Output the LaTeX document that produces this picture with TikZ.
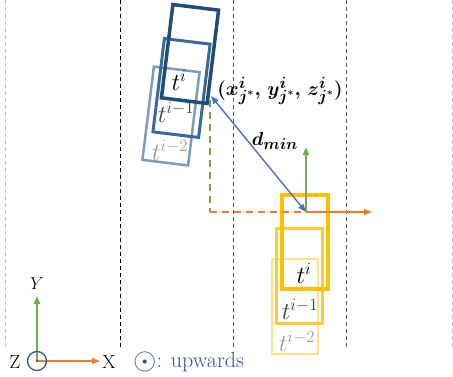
\documentclass[tikz,border=0pt]{standalone}
\usepackage{bm}
\usepackage{graphicx}
\usetikzlibrary{arrows.meta}
\definecolor{bA}{HTML}{1F4E79}
\definecolor{bB}{HTML}{3A6A98}
\definecolor{bC}{HTML}{7D9CBC}
\definecolor{yA}{HTML}{FFC000}
\definecolor{yB}{HTML}{FFCB2E}
\definecolor{yC}{HTML}{FFE18C}
\definecolor{arrB}{HTML}{4472C4}
\definecolor{grn}{HTML}{70AD47}
\definecolor{org}{HTML}{ED7D31}
\definecolor{txtB}{HTML}{2F5597}
\definecolor{gA}{HTML}{404040}
\definecolor{gB}{HTML}{9A9A9A}
\begin{document}
\begin{tikzpicture}[x=1pt,y=-1pt,
  lane/.style={dashed, dash pattern=on 4pt off 3pt, line width=0.8pt},
  bbox/.style={rectangle, minimum width=46pt, minimum height=94pt, rotate=-7, inner sep=0pt},
  ybox/.style={rectangle, minimum width=46pt, minimum height=95pt, inner sep=0pt},
  lbl/.style={inner sep=0pt, font=\fontsize{20}{22}\selectfont, scale=1.18},
  txt/.style={inner sep=0pt, font=\fontsize{19}{22}\selectfont},
  tip/.style={-{Triangle[length=8pt,width=6pt]}},
  dsh/.style={dashed, dash pattern=on 7pt off 5pt, line width=1.6pt}]
\useasboundingbox (0,0) rectangle (453,376);
% lanes
\draw[lane, gray!50] (5,0) -- (5,348);
\draw[lane, black] (120,0) -- (120,348);
\draw[lane, black!65] (233,0) -- (233,348);
\draw[lane, black!65] (346,0) -- (346,348);
\draw[lane, gray!50] (452,0) -- (452,348);
% blue (other vehicle)
\node[bbox, draw=bC, line width=2.5pt] (b2) at (171,116) {};
\node[bbox, draw=bB, line width=3pt] (b1) at (181.5,88) {};
\node[bbox, draw=bA, line width=3.5pt] (b0) at (190,54) {};
\node[lbl, text=gB] (lb2) at (170,150) {$t^{i-2}$};
\node[lbl, text=gA] (lb1) at (176,112) {$t^{i-1}$};
\node[lbl, text=black] (lb0) at (179,80) {$t^{i}$};
% yellow (ego vehicle)
\node[ybox, draw=yC, line width=2.5pt] (y2) at (295,306.5) {};
\node[ybox, draw=yB, line width=3pt] (y1) at (299,275.5) {};
\node[ybox, draw=yA, line width=4pt, minimum height=94pt] (y0) at (305,242) {};
\node[lbl, text=gB] (ly2) at (297,341) {$t^{i-2}$};
\node[lbl, text=gA] (ly1) at (300,309) {$t^{i-1}$};
\node[lbl, text=black] (ly0) at (304,273) {$t^{i}$};
% ego frame and distance
\coordinate (O) at (306,212);
\coordinate (Xe) at (372,212);
\coordinate (Ye) at (306,147);
\coordinate (P) at (210,212);
\coordinate (C) at (210,100);
\coordinate (Q) at (211,96);
\draw[dsh, grn] (C) -- (P);
\draw[dsh, org] (P) -- (O);
\draw[tip, org, line width=1.6pt] (O) -- (Xe);
\draw[tip, grn, line width=1.6pt] (O) -- (Ye);
\draw[{Triangle[length=8pt,width=6pt]}-{Triangle[length=8pt,width=6pt]}, arrB, line width=1.4pt] (Q) -- (O);
\node[inner sep=0pt, font=\fontsize{19}{22}\selectfont, scale=1.13] (pt) at (280,91) {$\bm{(x^{i}_{j^*},\, y^{i}_{j^*},\, z^{i}_{j^*})}$};
\node[inner sep=0pt, font=\fontsize{19}{22}\selectfont, scale=1.1] (dm) at (275,141) {$\bm{d_{min}}$};
% world axes
\coordinate (A) at (37,361);
\coordinate (AX) at (100,361);
\coordinate (AY) at (37,296);
\draw[tip, grn, line width=1.4pt] (A) -- (AY);
\draw[tip, org, line width=1.6pt] (A) -- (AX);
\node[circle, draw=txtB, line width=1.3pt, minimum size=19pt, inner sep=0pt] (zc) at (A) {};
\fill[txtB] (A) circle (1.3pt);
\node[txt] (ly) at (37,284) {$Y$};
\node[txt] (lx) at (109,362) {X};
\node[txt] (lz) at (15,362) {Z};
\node[inner sep=0pt, font=\fontsize{22}{24}\selectfont, text=txtB, anchor=west] (lu) at (133,362) {\raisebox{-0.12em}{\scalebox{1.45}{$\odot$}}: upwards};
\end{tikzpicture}
\end{document}
